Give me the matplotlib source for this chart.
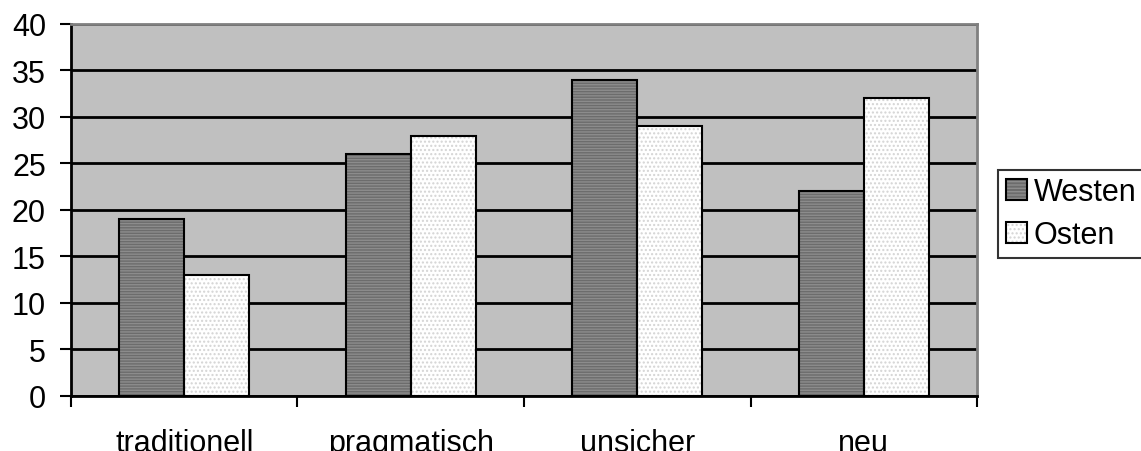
import numpy as np
import matplotlib
matplotlib.use("Agg")
import matplotlib.pyplot as plt
from matplotlib.patches import Patch
from matplotlib.legend_handler import HandlerTuple

plt.rcParams["font.family"] = ["Liberation Sans", "DejaVu Sans"]
plt.rcParams["hatch.linewidth"] = 1.0

# Daten
kategorien = ["traditionell", "pragmatisch", "unsicher", "neu"]
westen = [19, 26, 34, 22]
osten = [13, 28, 29, 32]
yticks = [0, 5, 10, 15, 20, 25, 30, 35, 40]

fig = plt.figure(figsize=(11.41, 4.52), dpi=100)
ax = fig.add_axes([0.0622, 0.1217, 0.7941, 0.823])
ax.set_facecolor("#c0c0c0")

x = np.arange(len(kategorien))
w = 0.287

# Westen: dunkelgrau mit waagrechten Streifen
ax.bar(x - w / 2, westen, w, color="#6c6c6c", edgecolor="#8c8c8c",
       hatch="------", linewidth=0, zorder=3)
ax.bar(x - w / 2, westen, w, fill=False, edgecolor="black", linewidth=1.5, zorder=4)
# Osten: weiss mit feinen Punkten
ax.bar(x + w / 2, osten, w, color="white", edgecolor="#d4d4d4",
       hatch="....", linewidth=0, zorder=3)
ax.bar(x + w / 2, osten, w, fill=False, edgecolor="black", linewidth=1.5, zorder=4)

ax.set_xlim(-0.5, len(kategorien) - 0.5)
ax.set_ylim(0, 40)
ax.set_yticks(yticks)
ax.set_yticklabels([str(v) for v in yticks], fontsize=22)
ax.yaxis.grid(True, color="black", linewidth=2)
ax.set_axisbelow(True)

ax.set_xticks(np.arange(len(kategorien) + 1) - 0.5)
ax.set_xticklabels([])
ax.set_xticks(x, minor=True)
ax.set_xticklabels(kategorien, minor=True, fontsize=22)
ax.tick_params(axis="x", which="minor", length=0, pad=23)
ax.tick_params(axis="x", which="major", length=8, width=1.5, direction="out")
ax.tick_params(axis="y", length=8, width=1.5, direction="out", pad=10)

for s in ["top", "right"]:
    ax.spines[s].set_color("#808080")
    ax.spines[s].set_linewidth(2)
ax.spines["left"].set_linewidth(2)
ax.spines["bottom"].set_linewidth(2)

h_w = (Patch(facecolor="#6c6c6c", edgecolor="#8c8c8c", hatch="-----", linewidth=0),
       Patch(fill=False, edgecolor="black", linewidth=1.5))
h_o = (Patch(facecolor="white", edgecolor="#d4d4d4", hatch="....", linewidth=0),
       Patch(fill=False, edgecolor="black", linewidth=1.5))
leg = fig.legend([h_w, h_o], ["Westen", "Osten"], handler_map={tuple: HandlerTuple(ndivide=1)},
                 loc="upper left", bbox_to_anchor=(0.875, 0.622), fontsize=22,
                 frameon=True, fancybox=False, edgecolor="black",
                 handlelength=0.7, handleheight=0.7, handletextpad=0.2,
                 borderpad=0.25, labelspacing=0.42, borderaxespad=0)
leg.get_frame().set_linewidth(1.5)

fig.savefig("out.png", dpi=100)
